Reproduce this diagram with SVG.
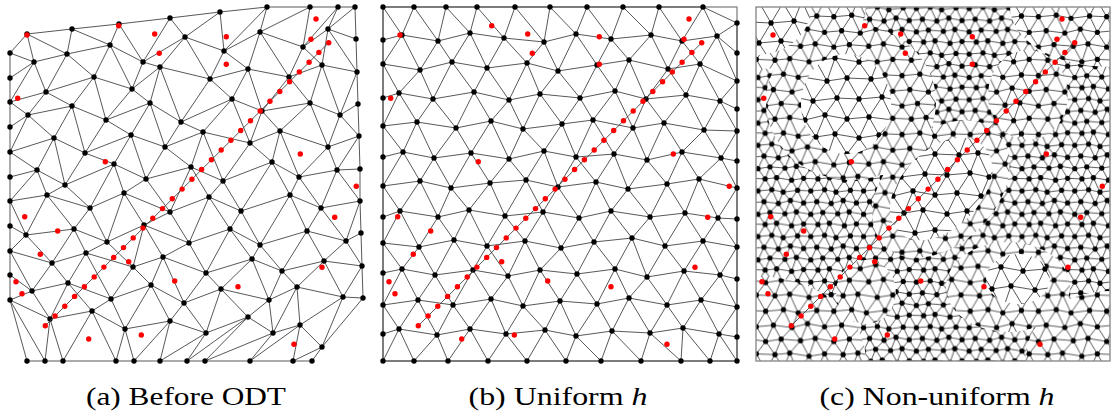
<svg xmlns="http://www.w3.org/2000/svg" width="1116" height="419" viewBox="0 0 1116 419">
<style>
.e{fill:none;stroke:#3a3a3a;stroke-width:0.85;stroke-linejoin:round}
.v{fill:none;stroke:#3a3a3a;stroke-width:0.85;stroke-linejoin:round;marker-start:url(#dot);marker-mid:url(#dot);marker-end:url(#dot)}
.bd{fill:none;stroke:#8c8c8c;stroke-width:1.4}
</style>
<defs>
<marker id="dot" markerWidth="8" markerHeight="8" refX="4" refY="4" markerUnits="userSpaceOnUse"><circle cx="4" cy="4" r="2.7" fill="#000"/></marker>
<path id="tl" fill="none" stroke="#3a3a3a" stroke-linejoin="round" d="M-8 4.5L3 5 14.5 4 24 6 36 4.5 47 5M-3 15L8 14 20 15.5 30 13 41 15 52 14M-9 22.5L3 24.5 13 23 25.5 24 35 22.5 47 24.5M-3 32.5L9 33 18.5 32 31 34 41 32.5 53 33M-3 15L3 5 8 14 14.5 4 20 15.5 24 6 30 13 36 4.5 41 15 47 5M-3 15L3 24.5 8 14 13 23 20 15.5 25.5 24 30 13 35 22.5 41 15 47 24.5M-3 32.5L3 24.5 9 33 13 23 18.5 32 25.5 24 31 34 35 22.5 41 32.5 47 24.5M-3 32.5L3 43 9 33 14.5 42 18.5 32 24 44 31 34 36 42.5 41 32.5 47 43M-3 -5.5L3 5 9 -5 14.5 4 18.5 -6 24 6 31 -4 36 4.5 41 -5.5 47 5"/>
<path id="td" fill="none" stroke="#000" stroke-linecap="round" d="M3 5h.01M14.5 4h.01M24 6h.01M36 4.5h.01M8 14h.01M20 15.5h.01M30 13h.01M41 15h.01M3 24.5h.01M13 23h.01M25.5 24h.01M35 22.5h.01M9 33h.01M18.5 32h.01M31 34h.01M41 32.5h.01"/>
<pattern id="pf" x="-1.6" y="-4.5" width="52.8" height="45.6" patternUnits="userSpaceOnUse"><rect width="52.8" height="45.6" fill="#fff"/><g transform="scale(1.2)"><use href="#tl" stroke-width="0.71"/><use href="#td" stroke-width="4.4"/></g></pattern>
<pattern id="pm" x="5" y="2" width="68.2" height="58.9" patternUnits="userSpaceOnUse"><rect width="68.2" height="58.9" fill="#fff"/><g transform="scale(1.55)"><use href="#tl" stroke-width="0.55"/><use href="#td" stroke-width="3.4"/></g></pattern>
<pattern id="pc" x="9" y="6" width="88" height="76" patternUnits="userSpaceOnUse"><rect width="88" height="76" fill="#fff"/><g transform="scale(2)"><use href="#tl" stroke-width="0.43"/><use href="#td" stroke-width="2.65"/></g></pattern>
<g id="reds">
<path class="e" d="M35.3 318.7L318.7 35.7"/>
<g fill="#ff0000">
<circle cx="35.3" cy="318.7" r="2.7"/><circle cx="45.1" cy="308.9" r="2.7"/><circle cx="54.8" cy="299.2" r="2.7"/><circle cx="64.6" cy="289.4" r="2.7"/><circle cx="74.4" cy="279.7" r="2.7"/><circle cx="84.2" cy="269.9" r="2.7"/><circle cx="93.9" cy="260.1" r="2.7"/><circle cx="103.7" cy="250.4" r="2.7"/><circle cx="113.5" cy="240.6" r="2.7"/><circle cx="123.2" cy="230.9" r="2.7"/><circle cx="133" cy="221.1" r="2.7"/><circle cx="142.8" cy="211.3" r="2.7"/><circle cx="152.5" cy="201.6" r="2.7"/><circle cx="162.3" cy="191.8" r="2.7"/><circle cx="172.1" cy="182.1" r="2.7"/><circle cx="181.9" cy="172.3" r="2.7"/><circle cx="191.6" cy="162.5" r="2.7"/><circle cx="201.4" cy="152.8" r="2.7"/><circle cx="211.2" cy="143" r="2.7"/><circle cx="220.9" cy="133.3" r="2.7"/><circle cx="230.7" cy="123.5" r="2.7"/><circle cx="240.5" cy="113.7" r="2.7"/><circle cx="250.2" cy="104" r="2.7"/><circle cx="260" cy="94.2" r="2.7"/><circle cx="269.8" cy="84.5" r="2.7"/><circle cx="279.6" cy="74.7" r="2.7"/><circle cx="289.3" cy="64.9" r="2.7"/><circle cx="299.1" cy="55.2" r="2.7"/><circle cx="308.9" cy="45.4" r="2.7"/><circle cx="318.7" cy="35.7" r="2.7"/>
<circle cx="17" cy="28" r="2.7"/><circle cx="108.7" cy="18.7" r="2.7"/><circle cx="144.7" cy="27" r="2.7"/><circle cx="149.3" cy="46.3" r="2.7"/><circle cx="216.3" cy="29.7" r="2.7"/><circle cx="216.3" cy="57.3" r="2.7"/><circle cx="306" cy="12" r="2.7"/><circle cx="301" cy="32.3" r="2.7"/><circle cx="118.7" cy="254.7" r="2.7"/><circle cx="7.7" cy="91.3" r="2.7"/><circle cx="95.3" cy="154.7" r="2.7"/><circle cx="290.3" cy="147" r="2.7"/><circle cx="346.3" cy="179.3" r="2.7"/><circle cx="324.7" cy="210.3" r="2.7"/><circle cx="14.7" cy="209.7" r="2.7"/><circle cx="47.7" cy="224" r="2.7"/><circle cx="30.3" cy="247.3" r="2.7"/><circle cx="6" cy="274.7" r="2.7"/><circle cx="12" cy="286.7" r="2.7"/><circle cx="78.7" cy="332" r="2.7"/><circle cx="131.3" cy="328" r="2.7"/><circle cx="164.7" cy="274" r="2.7"/><circle cx="228" cy="279.7" r="2.7"/><circle cx="312" cy="260.3" r="2.7"/><circle cx="284" cy="337.3" r="2.7"/>
</g>
</g>
</defs>
<rect width="1116" height="419" fill="#fff"/>

<g id="panel-a" transform="translate(10,7)">
<g id="a-edges" class="e">
<path d="M0 71L0 46 24 55 17 27 57 47 62 22 100 38 109 17 133 55 160 11 175 30 210 5 214 44 257 0 250 25 300 0 293 40 328 0 318 22 345 0 346 32"/>
<path d="M0 71L0 95 24 55 36 85 57 47 84 70 100 38 122 82 133 55 150 60 175 30 200 72 214 44 238 62 250 25 279 70 293 40 312 58 318 22 347 65 346 32"/>
<path d="M0 120L0 95 18 108 36 85 62 99 84 70 96 113 122 82 140 96 150 60 171 115 200 72 222 92 238 62 252 104 279 70 300 96 312 58 330 108 347 65 348 97"/>
<path d="M0 120L0 145 18 108 44 131 62 99 75 146 96 113 121 128 140 96 155 140 171 115 193 125 222 92 240 136 252 104 270 124 300 96 318 140 330 108 349 129 348 97"/>
<path d="M0 170L0 145 27 163 44 131 55 178 75 146 104 157 121 128 136 172 155 140 181 160 193 125 213 174 240 136 262 155 270 124 289 170 318 140 327 163 349 129 350 162"/>
<path d="M0 170L0 194 27 163 37 188 55 178 80 201 104 157 114 186 136 172 160 205 181 160 199 190 213 174 231 204 262 155 280 188 289 170 311 201 327 163 350 194 350 162"/>
<path d="M0 219L0 194 16 228 37 188 64 222 80 201 97 235 114 186 134 218 160 205 179 236 199 190 220 222 231 204 250 238 280 188 297 224 311 201 336 234 350 194 351 226"/>
<path d="M0 219L0 244 16 228 42 256 64 222 76 246 97 235 123 260 134 218 153 250 179 236 196 266 220 222 242 252 250 238 272 264 297 224 314 254 336 234 352 259 351 226"/>
<path d="M0 268L0 244 22 284 42 256 58 276 76 246 101 292 123 260 141 278 153 250 174 296 196 266 211 282 242 252 259 293 272 264 287 280 314 254 333 290 352 259 353 291"/>
<path d="M0 268L0 293 22 284 40 312 58 276 82 304 101 292 115 322 141 278 160 314 174 296 196 326 211 282 238 310 259 293 263 326 287 280 290 318 333 290 312 340 353 291"/>
<path d="M17 354L0 293 35 354 40 312 53 354 82 304 106 354 115 322 124 354 160 314 150 354 196 326 177 354 238 310 195 354 263 326 240 354 290 318 283 354 312 340 302 354"/>
</g>
<g id="a-nodes" class="v">
<path d="M0 46L17 27 62 22 109 17 160 11 210 5 257 0 300 0 328 0 345 0"/>
<path d="M0 71L24 55 57 47 100 38 133 55 175 30 214 44 250 25 293 40 318 22 346 32"/>
<path d="M0 95L36 85 84 70 122 82 150 60 200 72 238 62 279 70 312 58 347 65"/>
<path d="M0 120L18 108 62 99 96 113 140 96 171 115 222 92 252 104 300 96 330 108 348 97"/>
<path d="M0 145L44 131 75 146 121 128 155 140 193 125 240 136 270 124 318 140 349 129"/>
<path d="M0 170L27 163 55 178 104 157 136 172 181 160 213 174 262 155 289 170 327 163 350 162"/>
<path d="M0 194L37 188 80 201 114 186 160 205 199 190 231 204 280 188 311 201 350 194"/>
<path d="M0 219L16 228 64 222 97 235 134 218 179 236 220 222 250 238 297 224 336 234 351 226"/>
<path d="M0 244L42 256 76 246 123 260 153 250 196 266 242 252 272 264 314 254 352 259"/>
<path d="M0 268L22 284 58 276 101 292 141 278 174 296 211 282 259 293 287 280 333 290 353 291"/>
<path d="M0 293L40 312 82 304 115 322 160 314 196 326 238 310 263 326 290 318 312 340"/>
<path d="M17 354L35 354 53 354 106 354 124 354 150 354 177 354 195 354 240 354 283 354 302 354"/>
</g>
<use href="#reds"/>
</g>

<g id="panel-b" transform="translate(383,7)">
<rect class="bd" width="354" height="354"/>
<g id="b-edges" class="e">
<path d="M0 33L0 0 19 28 31 0 55 34 63 0 87 26 94 0 121 31 132 0 161 35 167 0 193 27 204 0 228 32 240 0 268 28 276 0 299 34 320 0 334 29 354 16 354 46"/>
<path d="M0 33L0 57 19 28 37 63 55 34 69 55 87 26 104 61 121 31 144 56 161 35 175 64 193 27 214 58 228 32 246 53 268 28 285 62 299 34 317 57 334 29 354 74 354 46"/>
<path d="M0 91L0 57 16 86 37 63 50 92 69 55 91 85 104 61 126 93 144 56 157 87 175 64 197 91 214 58 232 84 246 53 263 92 285 62 303 88 317 57 337 94 354 74 354 102"/>
<path d="M0 91L0 119 16 86 34 115 50 92 73 121 91 85 108 114 126 93 140 122 157 87 179 117 197 91 210 113 232 84 250 121 263 92 281 116 303 88 321 123 337 94 354 124 354 102"/>
<path d="M0 150L0 119 20 145 34 115 51 151 73 121 88 146 108 114 126 152 140 122 161 144 179 117 193 150 210 113 231 147 250 121 264 153 281 116 299 145 321 123 338 151 354 124 354 154"/>
<path d="M0 150L0 179 20 145 37 174 51 151 68 181 88 146 107 176 126 152 143 173 161 144 175 180 193 150 213 175 231 147 245 182 264 153 284 177 299 145 316 172 338 151 354 181 354 154"/>
<path d="M0 210L0 179 17 204 37 174 55 210 68 181 86 203 107 176 122 209 143 173 160 205 175 180 196 211 213 175 228 204 245 182 267 210 284 177 302 206 316 172 335 211 354 181 354 212"/>
<path d="M0 210L0 236 17 204 36 240 55 210 71 233 86 203 104 239 122 209 142 234 160 205 178 241 196 211 211 235 228 204 249 231 267 210 282 239 302 206 320 234 335 211 354 240 354 212"/>
<path d="M0 266L0 236 19 262 36 240 52 268 71 233 90 263 104 239 125 269 142 234 157 263 178 241 194 267 211 235 232 262 249 231 264 270 282 239 301 264 320 234 337 268 354 240 354 272"/>
<path d="M0 266L0 298 19 262 35 293 52 268 70 298 90 263 108 292 125 269 140 299 157 263 177 294 194 267 214 297 232 262 246 291 264 270 284 298 301 264 318 293 337 268 354 300 354 272"/>
<path d="M0 327L0 298 16 322 35 293 54 328 70 298 87 322 108 292 123 327 140 299 162 323 177 294 193 329 214 297 229 324 246 291 267 326 284 298 300 321 318 293 336 327 354 300 354 330"/>
<path d="M0 327L0 354 16 322 31 354 54 328 65 354 87 322 105 354 123 327 144 354 162 323 183 354 193 329 218 354 229 324 258 354 267 326 298 354 300 321 327 354 336 327 354 354 354 330"/>
</g>
<g id="b-nodes" class="v">
<path d="M0 0L31 0 63 0 94 0 132 0 167 0 204 0 240 0 276 0 320 0 354 16"/>
<path d="M0 33L19 28 55 34 87 26 121 31 161 35 193 27 228 32 268 28 299 34 334 29 354 46"/>
<path d="M0 57L37 63 69 55 104 61 144 56 175 64 214 58 246 53 285 62 317 57 354 74"/>
<path d="M0 91L16 86 50 92 91 85 126 93 157 87 197 91 232 84 263 92 303 88 337 94 354 102"/>
<path d="M0 119L34 115 73 121 108 114 140 122 179 117 210 113 250 121 281 116 321 123 354 124"/>
<path d="M0 150L20 145 51 151 88 146 126 152 161 144 193 150 231 147 264 153 299 145 338 151 354 154"/>
<path d="M0 179L37 174 68 181 107 176 143 173 175 180 213 175 245 182 284 177 316 172 354 181"/>
<path d="M0 210L17 204 55 210 86 203 122 209 160 205 196 211 228 204 267 210 302 206 335 211 354 212"/>
<path d="M0 236L36 240 71 233 104 239 142 234 178 241 211 235 249 231 282 239 320 234 354 240"/>
<path d="M0 266L19 262 52 268 90 263 125 269 157 263 194 267 232 262 264 270 301 264 337 268 354 272"/>
<path d="M0 298L35 293 70 298 108 292 140 299 177 294 214 297 246 291 284 298 318 293 354 300"/>
<path d="M0 327L16 322 54 328 87 322 123 327 162 323 193 329 229 324 267 326 300 321 336 327 354 330"/>
<path d="M0 354L31 354 65 354 105 354 144 354 183 354 218 354 258 354 298 354 327 354 354 354"/>
</g>
<use href="#reds"/>
</g>

<g id="panel-c" transform="translate(756,7)">
<svg width="354" height="354" overflow="hidden">
<rect id="c-fine" width="354" height="354" fill="url(#pf)"/>
<g id="c-medium" fill="url(#pm)">
<ellipse cx="95" cy="95" rx="85" ry="78"/>
<ellipse cx="0" cy="0" rx="110" ry="62"/>
<path d="M241.6 125.4A80 55 -45 1 1 128.4 238.6A80 55 -45 1 1 241.6 125.4Z"/>
<ellipse cx="252" cy="280" rx="62" ry="45"/>
<ellipse cx="272" cy="88" rx="40" ry="45"/>
<ellipse cx="354" cy="0" rx="100" ry="60"/>
<ellipse cx="0" cy="354" rx="110" ry="85"/>
<ellipse cx="354" cy="354" rx="85" ry="70"/>
<ellipse cx="110" cy="285" rx="30" ry="32"/>
</g>
<g id="c-coarse" fill="url(#pc)">
<ellipse cx="90" cy="97" rx="45" ry="50"/>
<path d="M227.4 139.6A60 38 -45 1 1 142.6 224.4A60 38 -45 1 1 227.4 139.6Z"/>
<ellipse cx="262" cy="272" rx="32" ry="25"/>
<ellipse cx="0" cy="0" rx="55" ry="48"/>
</g>
</svg>
<rect class="bd" width="354" height="354"/>
<use href="#reds"/>
</g>

<g id="captions" font-family="'Liberation Serif', 'Times New Roman', serif" font-size="26" fill="#000">
<text x="186" y="405" text-anchor="middle" textLength="200" lengthAdjust="spacingAndGlyphs">(a) Before ODT</text>
<text x="558" y="405" text-anchor="middle" textLength="179" lengthAdjust="spacingAndGlyphs">(b) Uniform <tspan font-style="italic">h</tspan></text>
<text x="937" y="405" text-anchor="middle" textLength="235" lengthAdjust="spacingAndGlyphs">(c) Non-uniform <tspan font-style="italic">h</tspan></text>
</g>
</svg>
